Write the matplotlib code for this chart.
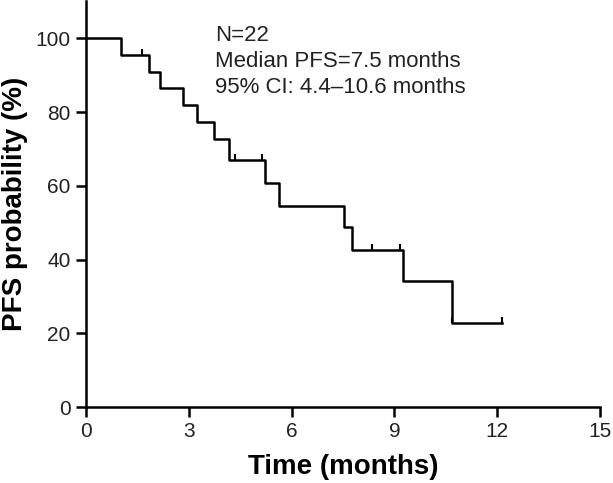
import matplotlib
matplotlib.use("Agg")
import matplotlib.pyplot as plt

plt.rcParams['font.family'] = ['Liberation Sans', 'DejaVu Sans']

# step curve (time in months, PFS %)
step_time = [0, 1.04, 1.84, 2.16, 2.84, 3.25, 3.74, 4.17, 5.22, 5.63, 7.54, 7.77, 9.24, 10.67, 12.15]
step_surv = [100, 95.5, 90.9, 86.4, 81.8, 77.3, 72.7, 67.0, 60.9, 54.5, 48.8, 42.6, 34.1, 22.9, 22.9]

# censored observations
cens_time = [1.63, 4.35, 5.14, 8.35, 9.16, 10.67, 12.15]
cens_surv = [95.5, 67.0, 67.0, 42.6, 42.6, 22.9, 22.9]

xticks = [0, 3, 6, 9, 12, 15]
yticks = [0, 20, 40, 60, 80, 100]
info_lines = ['N=22', 'Median PFS=7.5 months', '95% CI: 4.4\u201310.6 months']

fig = plt.figure(figsize=(6.13, 4.83), dpi=100)
ax = fig.add_axes([0.140, 0.157, 0.839, 0.840])

ax.step(step_time, step_surv, where='post', color='black', lw=1.8)
ax.plot(cens_time, cens_surv, linestyle='none', marker=2, color='black',
        markersize=4, markeredgewidth=1.5)

ax.set_xlim(0, 15)
ax.set_ylim(0, 110)
ax.set_xticks(xticks)
ax.set_yticks(yticks)
ax.spines['top'].set_visible(False)
ax.spines['right'].set_visible(False)
ax.spines['left'].set_linewidth(1.8)
ax.spines['bottom'].set_linewidth(1.8)
ax.tick_params(direction='out', length=7, width=1.8, pad=4, labelsize=15, labelcolor='#222222')

ax.set_xlabel('Time (months)', fontsize=20, fontweight='bold', labelpad=9)
ax.set_ylabel('PFS probability (%)', fontsize=20, fontweight='bold', labelpad=5)

# annotation block, one line each
for i, line in enumerate(info_lines):
    ax.text(3.76, 99.2 - 6.95 * i, line, fontsize=16, va='baseline', ha='left', color='#222222')

fig.savefig('out.png', dpi=100)
